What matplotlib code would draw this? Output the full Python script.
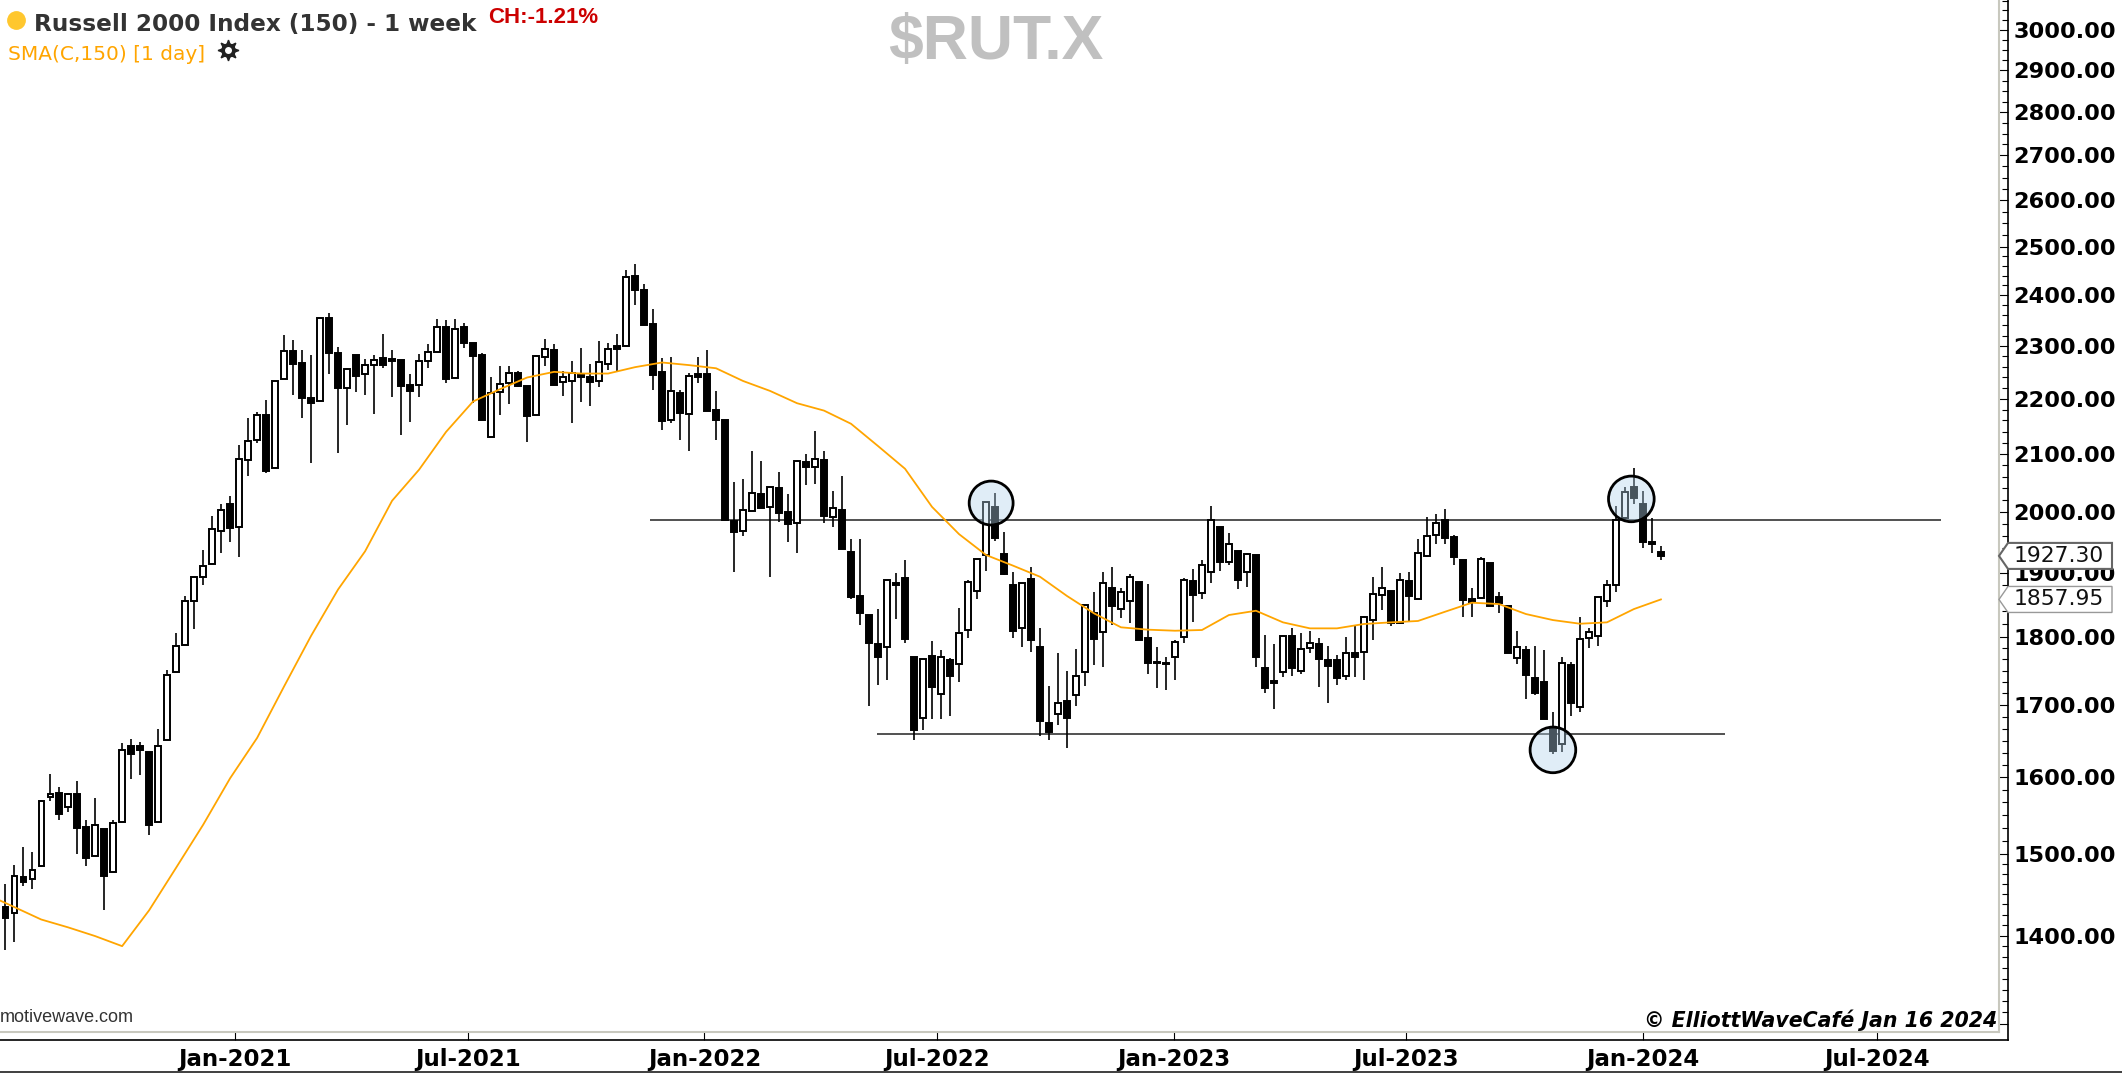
#weekly candlestick chart of the Russell 2000 with a 150 day moving average
import numpy as np
import pandas as pd
import matplotlib
matplotlib.use("Agg")
import matplotlib.pyplot as plt
import matplotlib.dates as mdates
from matplotlib.lines import Line2D
from matplotlib.patches import Polygon, Rectangle
from matplotlib.ticker import NullFormatter
from matplotlib.transforms import IdentityTransform

W, H = 2122, 1073

opens = [1434.3, 1426.6, 1470.7, 1469, 1484.6, 1573.7, 1579, 1559.9, 1577.3, 1534.1,
         1497.8, 1531.7, 1476.8, 1540.1, 1642.6, 1642, 1633.9, 1540.1, 1650.8, 1747.8,
         1787.5, 1854.8, 1892.7, 1913.7, 1968.8, 2012.6, 1975.6, 2088.7, 2125.5, 2169.4,
         2075.7, 2236.5, 2289.3, 2267.3, 2201.6, 2194.8, 2354.9, 2286.7, 2220.3, 2281.4,
         2245.2, 2262.9, 2276, 2274.3, 2272.5, 2224.6, 2224.6, 2271.6, 2287.6, 2336.5,
         2239, 2336.5, 2306.1, 2281.5, 2131, 2211.5, 2229, 2247.6, 2222.7, 2169.1,
         2278.3, 2292.4, 2230.2, 2232.7, 2245.7, 2241.4, 2232.7, 2264.9, 2300, 2298.8,
         2439.6, 2411.2, 2342.5, 2249.5, 2161.2, 2210.3, 2172, 2245.7, 2246.4, 2179.3,
         2161.2, 1985.4, 1968.7, 2002.1, 2030.6, 2008.8, 2040.8, 2000.5, 1981, 2086.6,
         2077.8, 2090.1, 1992.1, 2002.7, 1933.2, 1863.4, 1833.3, 1789.4, 1785.5, 1883.3,
         1891.7, 1769.5, 1680.9, 1771.5, 1715.3, 1765.6, 1759.6, 1810.8, 1871.8, 1928.9,
         2007.7, 1930.5, 1880.7, 1813.3, 1889.6, 1785.5, 1673.9, 1686.9, 1705.6, 1714.3,
         1747.2, 1837.4, 1808.2, 1875.5, 1842.5, 1856, 1884.9, 1798.9, 1763, 1761,
         1769.6, 1800.5, 1887.5, 1868.7, 1901.8, 1974.3, 1917.4, 1935.3, 1901.2, 1928.3,
         1753.1, 1735, 1747.2, 1802, 1749.7, 1783, 1789.4, 1765.6, 1765.6, 1742.3,
         1776.5, 1777, 1826, 1865, 1871.8, 1821, 1887, 1858.3, 1927.8, 1961.5,
         1986.6, 1957.6, 1920.8, 1858.7, 1859.8, 1916.3, 1862.4, 1847.6, 1768, 1780.5,
         1738.5, 1733.6, 1669.2, 1644.8, 1758.1, 1697.4, 1798, 1801.5, 1856, 1880.7,
         1989.3, 2042.2, 2013.4, 1950.4, 1933.7]
highs = [1462, 1486.3, 1508.2, 1502.4, 1568.9, 1604.6, 1587.1, 1578.5, 1594.6, 1543.7,
         1572.5, 1531.7, 1543.7, 1646.4, 1652.3, 1648.4, 1633.9, 1666.5, 1751.1, 1806.9,
         1863.6, 1892.7, 1937, 1993.8, 2014.2, 2027.6, 2116.5, 2164.3, 2176.2, 2196.6,
         2233.1, 2320.3, 2311.5, 2292, 2281.4, 2354.9, 2364, 2297.3, 2256.7, 2281.4,
         2274.3, 2283.2, 2323, 2292, 2272.5, 2246.1, 2285, 2303.5, 2353, 2350.2,
         2353, 2343.8, 2306.1, 2286, 2241.4, 2260.4, 2260.4, 2252.7, 2222.7, 2281.5,
         2312.9, 2303.9, 2252.7, 2270, 2295.6, 2265.5, 2309.7, 2305.2, 2323.4, 2450.6,
         2463.8, 2423.4, 2372, 2276.4, 2278.3, 2216.5, 2248.9, 2278.3, 2292.4, 2213.4,
         2161.2, 2051.1, 2055.7, 2106, 2087.8, 2042, 2069, 2030.6, 2089.6, 2100.2,
         2141.2, 2106, 2036.3, 2061.4, 1954.9, 1954.9, 1833.3, 1842.5, 1888.6, 1899.1,
         1920.7, 1769.5, 1766.6, 1793.4, 1780.5, 1768, 1844, 1888.6, 1922.4, 2016.2,
         2032.8, 1967.1, 1901.8, 1884.4, 1908.8, 1814.3, 1727.3, 1775.5, 1749, 1782,
         1849.2, 1870, 1900.7, 1908.8, 1875.5, 1898, 1884.9, 1881.8, 1785.5, 1769.6,
         1795.4, 1891.2, 1905.6, 1920.8, 2010, 1974.3, 1964.3, 1936, 1931.6, 1928.3,
         1803.1, 1789.4, 1802, 1813.3, 1805.6, 1809.7, 1798, 1787, 1773, 1800.5,
         1816.8, 1832.3, 1893.8, 1908.8, 1871.8, 1899.1, 1901.8, 1954.9, 1992.1, 1996.6,
         2004.4, 1961.5, 1920.8, 1875.5, 1926.3, 1916.3, 1870, 1847.6, 1809.7, 1786.5,
         1787, 1780.5, 1690.3, 1770.6, 1763, 1830.2, 1813.3, 1863.4, 1888.6, 2009.9,
         2042.2, 2074.8, 2035.5, 1989.3, 1942.9]
lows = [1383.5, 1393.2, 1460.4, 1456.5, 1482.9, 1567.7, 1543.7, 1553.9, 1500.1, 1484.6,
        1497.8, 1431, 1476.8, 1540.1, 1597.1, 1603.3, 1523.9, 1540.1, 1650.8, 1747.8,
        1787.5, 1811.8, 1880.3, 1913.7, 1932.5, 1949.9, 1925.7, 2061.4, 2119.8, 2066.1,
        2075.7, 2236.5, 2206.7, 2165.1, 2084.7, 2194.8, 2246.1, 2101, 2151.6, 2212.7,
        2206.7, 2171.1, 2256.7, 2203.3, 2132.9, 2156.6, 2203.3, 2257.6, 2287.6, 2228.9,
        2239, 2295.6, 2192.3, 2160, 2131, 2170.3, 2190.4, 2220.9, 2121.9, 2169.1,
        2260.4, 2225.8, 2204.1, 2155.1, 2194.7, 2187.3, 2220.9, 2254, 2250.8, 2298.8,
        2380.8, 2341.2, 2215.5, 2143, 2155.1, 2124.9, 2106, 2229, 2178.1, 2124.9,
        1986.6, 1900.7, 1959.9, 2002.1, 2006, 1893.8, 1983.8, 1950.5, 1932.7, 2046,
        2047.7, 1982.1, 1974.3, 1938.6, 1858.1, 1818.4, 1698.4, 1728.8, 1736, 1827.1,
        1791.4, 1650.4, 1664.5, 1679.5, 1680, 1684.2, 1733.6, 1798, 1859.3, 1903.4,
        1952.1, 1896.5, 1798, 1784.5, 1778, 1656, 1650.4, 1671.5, 1640.2, 1698.4,
        1727.3, 1758.1, 1755.6, 1818.4, 1828.7, 1821, 1795.4, 1744.7, 1724.8, 1721,
        1736.1, 1791.4, 1823.2, 1858.3, 1884.4, 1902.9, 1912.6, 1874.5, 1877, 1755.6,
        1716.9, 1695, 1740.9, 1741.8, 1744.7, 1775.5, 1725.8, 1703.2, 1728.8, 1736.9,
        1739.9, 1736, 1795.4, 1841.5, 1816.8, 1819.4, 1823.2, 1858.3, 1925.2, 1946.7,
        1946.7, 1912.6, 1830.2, 1830.2, 1858.3, 1847.6, 1837.4, 1775.5, 1759.6, 1708,
        1714.3, 1679.5, 1631.3, 1634, 1684.2, 1690.3, 1782.9, 1786.5, 1846.6, 1870,
        1985.5, 2014, 1939.6, 1932.7, 1920.8]
closes = [1421.5, 1471.9, 1465, 1479.4, 1568.3, 1577.9, 1550.9, 1577.3, 1532.9, 1494.9,
          1536.5, 1472.4, 1538.9, 1637, 1632, 1637, 1537.1, 1642.6, 1743.7, 1785.9,
          1854.8, 1892.7, 1911.6, 1971.1, 2003.2, 1973.4, 2091.2, 2123, 2170.2, 2070.8,
          2233.1, 2290.2, 2265.5, 2200.8, 2192.3, 2354.9, 2285.7, 2220.3, 2254.9, 2242.5,
          2263.7, 2273.4, 2263.7, 2269.9, 2222.9, 2214.4, 2270.8, 2287.6, 2337.5, 2236.5,
          2333.7, 2306.1, 2279.6, 2161.2, 2210.3, 2227.7, 2247.6, 2222.7, 2167.3, 2279.6,
          2293.7, 2225.8, 2240.1, 2247.6, 2240.1, 2232, 2268, 2293.7, 2293.7, 2437,
          2410.9, 2341.2, 2244.5, 2159.4, 2214.6, 2173.3, 2242.6, 2241.4, 2178.1, 2161.2,
          1986.6, 1966.5, 2003.2, 2031.7, 2006, 2042, 1998.8, 1979.3, 2088.4, 2076.6,
          2091.3, 1993.2, 2006.6, 1938.6, 1861.3, 1837.4, 1791.4, 1770.5, 1888.6, 1880.2,
          1797.4, 1664.5, 1766.6, 1726.4, 1770.5, 1741.8, 1806.7, 1886, 1922.4, 2016.2,
          1956, 1898, 1809.7, 1884.4, 1795.4, 1677.2, 1662.2, 1702.2, 1680.9, 1741.8,
          1849.2, 1797, 1883.3, 1848.2, 1870, 1892.8, 1795.4, 1761, 1760.6, 1759,
          1792.9, 1888.6, 1865, 1912.6, 1986.6, 1917.9, 1946.7, 1888.6, 1930.5, 1770.6,
          1724.8, 1732.4, 1802, 1753.1, 1781.5, 1791.4, 1766.6, 1757, 1739.4, 1775.5,
          1770.6, 1831.2, 1866.5, 1875.5, 1821.5, 1888.6, 1862.9, 1931.6, 1960.4, 1981,
          1957.1, 1925.2, 1857.1, 1853.4, 1922.4, 1847.6, 1851.8, 1775.5, 1785.5, 1744.2,
          1717.9, 1679.5, 1635.4, 1761, 1702.2, 1796.9, 1808.2, 1862.4, 1880.7, 1986.6,
          2033.8, 2024.4, 1949.3, 1946.7, 1927.3]

# sma read every third week, starting two weeks before the first candle
sma_values = [1449.3, 1434.3, 1419.3, 1409.9, 1399.6, 1387.8, 1430.3, 1482.5, 1537, 1598.4,
              1653.6, 1726.9, 1802, 1873.7, 1934.8, 2018.9, 2072.4, 2139.4, 2194.8, 2217.7,
              2239.5, 2250.2, 2247, 2247, 2259.1, 2268, 2263, 2257, 2233, 2214.4,
              2191.6, 2178, 2154, 2114, 2074, 2008.5, 1963, 1928.8, 1911.6, 1893.8,
              1863.4, 1836.4, 1814.9, 1811.3, 1809.7, 1810.8, 1833.8, 1840.4, 1822.5, 1813.3,
              1813.3, 1820, 1822.5, 1824.6, 1838.8, 1852.9, 1850.8, 1835.3, 1826, 1820.4,
              1822.5, 1843, 1858]

tick_dates = ["2021-01-01", "2021-07-01", "2022-01-01", "2022-07-01", "2023-01-01", "2023-07-01", "2024-01-01", "2024-07-01"]
price_ticks = [1300, 1400, 1500, 1600, 1700, 1800, 1900, 2000, 2100, 2200, 2300, 2400, 2500, 2600, 2700, 2800, 2900, 3000]

# support / resistance lines: price, start, end
resistance = [1986.6, "2021-11-20", "2024-08-20"]
support = [1659, "2022-05-15", "2024-03-05"]

# highlighted spots: date, price
circle_dates = ["2022-08-12", "2023-12-23", "2023-10-23"]
circle_prices = [2015, 2022, 1637]
circle_sizes = [1000, 1080, 1080]

last_close = 1927.30
last_sma = 1857.95

dates = mdates.date2num(pd.date_range(end="2024-01-15", periods=len(opens), freq="7D"))
sma_dates = dates[0] + 7 * np.arange(-2, 185, 3)
opens, highs, lows, closes = map(np.array, (opens, highs, lows, closes))


def fx(x):
    return x / W


def fy(y):
    return 1 - y / H


fig = plt.figure(figsize=(W / 100, H / 100), dpi=100, facecolor="white")
ax = fig.add_axes([0, fy(1040), 2008 / W, 1040 / H])
ax.set_yscale("log")
ax.set_xlim(mdates.datestr2num("2020-07-02"), mdates.datestr2num("2024-10-11"))
ax.set_ylim(1282.4, 3077)

ax.hlines(resistance[0], mdates.datestr2num(resistance[1]), mdates.datestr2num(resistance[2]), color="#333333", lw=1.2, zorder=1)
ax.hlines(support[0], mdates.datestr2num(support[1]), mdates.datestr2num(support[2]), color="#333333", lw=1.2, zorder=1)

# wick first so the white bodies hide it
ax.vlines(dates, lows, highs, color="black", lw=1.2, zorder=2)
up = closes >= opens
body_low = np.minimum(opens, closes)
body_high = np.maximum(opens, closes)
ax.bar(dates[up], (body_high - body_low)[up], bottom=body_low[up], width=4.1, color="white", edgecolor="black", lw=1.4, zorder=2.1)
ax.bar(dates[~up], (body_high - body_low)[~up], bottom=body_low[~up], width=4.1, color="black", edgecolor="black", lw=1.4, zorder=2.1)

ax.plot(sma_dates, sma_values, color="#FFA500", lw=1.3, zorder=3)

ax.scatter(mdates.datestr2num(circle_dates), circle_prices, s=circle_sizes, facecolor=(0.70, 0.83, 0.92, 0.4), edgecolor="black", lw=2.0, zorder=4)

# axes
for side in ["left", "top"]:
    ax.spines[side].set_visible(False)
for side in ["right", "bottom"]:
    ax.spines[side].set_linewidth(1.2)
    ax.spines[side].set_color("black")

ax.set_xticks(mdates.datestr2num(tick_dates))
ax.set_xticklabels([pd.Timestamp(d).strftime("%b-%Y") for d in tick_dates], fontsize=16.5, fontweight="bold", color="black")
ax.tick_params(axis="x", direction="in", length=5.5, width=0.8, pad=6)

ax.yaxis.tick_right()
minor_ticks = []
for p in price_ticks:
    if p < 1500:
        n = 8
    elif p < 1800:
        n = 6
    elif p < 2500:
        n = 5
    else:
        n = 4
    minor_ticks += list(np.linspace(p, p + 100, n + 1)[1:-1])
ax.set_yticks(price_ticks)
ax.set_yticks(minor_ticks, minor=True)
ax.set_yticklabels(["" if p == 1300 else f"{p:.2f}" for p in price_ticks], fontsize=16.1, fontweight="bold", color="black")
ax.yaxis.set_minor_formatter(NullFormatter())
ax.tick_params(axis="y", which="major", direction="in", length=7.2, width=0.8, pad=4)
ax.tick_params(axis="y", which="minor", direction="in", length=4, width=0.8)

# grey inner frame and the dark band at the bottom of the window
fig.add_artist(Line2D([fx(1998.5), fx(1998.5)], [fy(0), fy(1032)], color="#C8C8BE", lw=1.5))
fig.add_artist(Line2D([0, fx(1998.5)], [fy(1032), fy(1032)], color="#C8C8BE", lw=1.5))
fig.add_artist(Rectangle((0, 0), 1, 2 / H, color="#444444", lw=0))

# price tags on the axis
fig.canvas.draw()
for value, edge, lw in [(last_close, "#666666", 1.5), (last_sma, "#999999", 1.0)]:
    yc = ax.transData.transform((dates[-1], value))[1]
    pts = [(1999, yc), (2008, yc + 13), (2112, yc + 13), (2112, yc - 13), (2008, yc - 13)]
    fig.add_artist(Polygon(pts, closed=True, facecolor="white", edgecolor=edge, lw=lw, transform=IdentityTransform(), zorder=5))
    fig.text(fx(2014), yc / H, f"{value:.2f}", fontsize=15.7, color="#111111", ha="left", va="center", zorder=6)

# header
fig.add_artist(Line2D([fx(15.5)], [fy(19.5)], marker="o", ms=12.5, mfc="#FFC72E", mec="#FFC72E", lw=0))
fig.text(fx(34), fy(24), "Russell 2000 Index (150) - 1 week", fontsize=16.65, fontweight="bold", color="#333333", ha="left", va="center")
fig.text(fx(488), fy(17.5), "CH:-1.21%", fontsize=16, fontweight="bold", family="Liberation Sans", color="#CC0000", ha="left", va="center")
fig.text(fx(8), fy(54), "SMA(C,150) [1 day]", fontsize=14.5, color="#FFA500", ha="left", va="center")
fig.text(fx(996), fy(42), "$RUT.X", fontsize=45, fontweight="bold", family="Liberation Sans", color="#C0C0C0", ha="center", va="center")

# settings gear next to the sma label
fig.add_artist(Line2D([fx(228)], [fy(50)], marker=(8, 1, 0), ms=15, mfc="#222222", mec="#222222", lw=0))
fig.add_artist(Line2D([fx(228)], [fy(50)], marker="o", ms=9.5, mfc="#222222", mec="#222222", lw=0))
fig.add_artist(Line2D([fx(228)], [fy(50)], marker="o", ms=4, mfc="white", mec="white", lw=0))

# footer
fig.text(0, fy(1018), "motivewave.com", fontsize=13, family="Liberation Sans", color="#333333", ha="left", va="center")
fig.text(fx(1997), fy(1020), "\u00a9 ElliottWaveCaf\u00e9 Jan 16 2024", fontsize=14.8, fontweight="bold", style="italic", color="black", ha="right", va="center")

fig.savefig("out.png", dpi=100)
